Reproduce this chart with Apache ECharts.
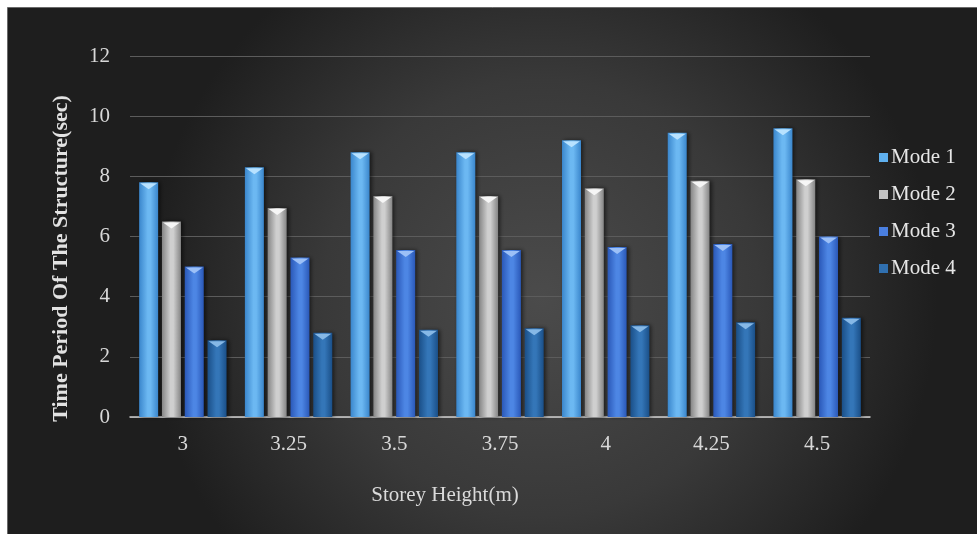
<!DOCTYPE html>
<html>
<head>
<meta charset="utf-8">
<script src="https://cdn.jsdelivr.net/npm/echarts@6/dist/echarts.min.js"></script>
<style>
  html, body { margin: 0; padding: 0; background: #ffffff; }
  #chart { width: 977px; height: 534px; }
</style>
</head>
<body>
<div id="chart"></div>
<script>
// Storey heights (m) on the category axis
const storeyHeights = ['3', '3.25', '3.5', '3.75', '4', '4.25', '4.5'];
// Time period (sec) per mode
const mode1 = [7.8, 8.3, 8.8, 8.8, 9.2, 9.45, 9.6];
const mode2 = [6.5, 6.95, 7.35, 7.35, 7.6, 7.85, 7.9];
const mode3 = [5.0, 5.3, 5.55, 5.55, 5.65, 5.75, 6.0];
const mode4 = [2.55, 2.8, 2.9, 2.95, 3.05, 3.15, 3.3];
const seriesNames = ['Mode 1', 'Mode 2', 'Mode 3', 'Mode 4'];
const yTicks = { min: 0, max: 12, interval: 2 };

const seriesData = [mode1, mode2, mode3, mode4];

// Cylinder-like shading: darker edges, lighter middle
const palettes = [
  { edge: '#3a86cc', mid: '#6cb8f2', cap: '#b8e2ff', icon: '#5fb0ee' },
  { edge: '#858585', mid: '#cfcfcf', cap: '#f6f6f6', icon: '#c4c4c4' },
  { edge: '#2a58b8', mid: '#4d86e4', cap: '#9cc0f7', icon: '#4a7fe0' },
  { edge: '#1a4f88', mid: '#3476b8', cap: '#86b8e6', icon: '#3070b0' }
];

function barGradient(p) {
  return new echarts.graphic.LinearGradient(0, 0, 1, 0, [
    { offset: 0, color: p.edge },
    { offset: 0.45, color: p.mid },
    { offset: 0.6, color: p.mid },
    { offset: 1, color: p.edge }
  ]);
}

const BAR_W = 19;
const BAR_GAP = '20%';
const CAT_GAP = '17%';

const series = [];
seriesData.forEach((data, i) => {
  series.push({
    name: seriesNames[i],
    type: 'bar',
    data: data,
    barWidth: BAR_W,
    barGap: BAR_GAP,
    barCategoryGap: CAT_GAP,
    itemStyle: {
      color: barGradient(palettes[i]),
      shadowColor: 'rgba(0,0,0,0.55)',
      shadowBlur: 4,
      shadowOffsetX: 2
    },
    z: 2
  });
});
// Bevelled caps on each bar top
seriesData.forEach((data, i) => {
  series.push({
    name: seriesNames[i] + ' cap',
    type: 'pictorialBar',
    data: data,
    barWidth: BAR_W,
    barGap: BAR_GAP,
    barCategoryGap: CAT_GAP,
    symbol: 'path://M0,0 L20,0 L10,7 Z',
    symbolSize: [BAR_W - 2, 6],
    symbolPosition: 'end',
    symbolOffset: [0, 1],
    itemStyle: { color: palettes[i].cap },
    silent: true,
    z: 5
  });
});

const chart = echarts.init(document.getElementById('chart'), null, { renderer: 'canvas' });

chart.setOption({
  animation: false,
  backgroundColor: '#ffffff',
  graphic: [{
    type: 'rect',
    left: 7,
    top: 7,
    shape: { width: 970, height: 527 },
    style: {
      fill: new echarts.graphic.RadialGradient(0.55, 0.55, 0.75, [
        { offset: 0, color: '#4b4b4b' },
        { offset: 0.55, color: '#393939' },
        { offset: 1, color: '#1e1e1e' }
      ]),
      stroke: '#6a6a6a',
      lineWidth: 1
    },
    silent: true,
    z: -10
  }],
  legend: {
    orient: 'vertical',
    left: 874,
    top: 142,
    itemWidth: 9,
    itemHeight: 9,
    itemGap: 16,
    icon: 'rect',
    data: seriesNames.map((n, i) => ({ name: n, itemStyle: { color: palettes[i].icon } })),
    textStyle: {
      color: '#e6e6e6',
      fontFamily: 'Liberation Serif',
      fontSize: 21,
      padding: [0, 0, 0, -2]
    }
  },
  grid: {
    left: 130,
    right: 107,
    top: 56,
    bottom: 117,
    containLabel: false
  },
  xAxis: {
    type: 'category',
    data: storeyHeights,
    name: 'Storey Height(m)',
    nameLocation: 'middle',
    nameGap: 68,
    nameTextStyle: {
      color: '#dadada',
      fontFamily: 'Liberation Serif',
      fontSize: 21,
      padding: [0, 110, 0, 0]
    },
    axisLine: { show: true, lineStyle: { color: '#d0d0d0', width: 1.5 } },
    axisTick: { show: false },
    axisLabel: {
      color: '#d8d8d8',
      fontFamily: 'Liberation Serif',
      fontSize: 21,
      margin: 17
    }
  },
  yAxis: {
    type: 'value',
    min: yTicks.min,
    max: yTicks.max,
    interval: yTicks.interval,
    name: 'Time Period Of The Structure(sec)',
    nameLocation: 'middle',
    nameGap: 58,
    nameTextStyle: {
      color: '#e2e2e2',
      fontFamily: 'Liberation Serif',
      fontWeight: 'bold',
      fontSize: 22,
      padding: [0, 44, 0, 0]
    },
    axisLine: { show: false },
    axisTick: { show: false },
    splitLine: { lineStyle: { color: '#5c5c5c', width: 1 } },
    axisLabel: {
      color: '#d8d8d8',
      fontFamily: 'Liberation Serif',
      fontSize: 21,
      margin: 20
    }
  },
  series: series
});
</script>
</body>
</html>
